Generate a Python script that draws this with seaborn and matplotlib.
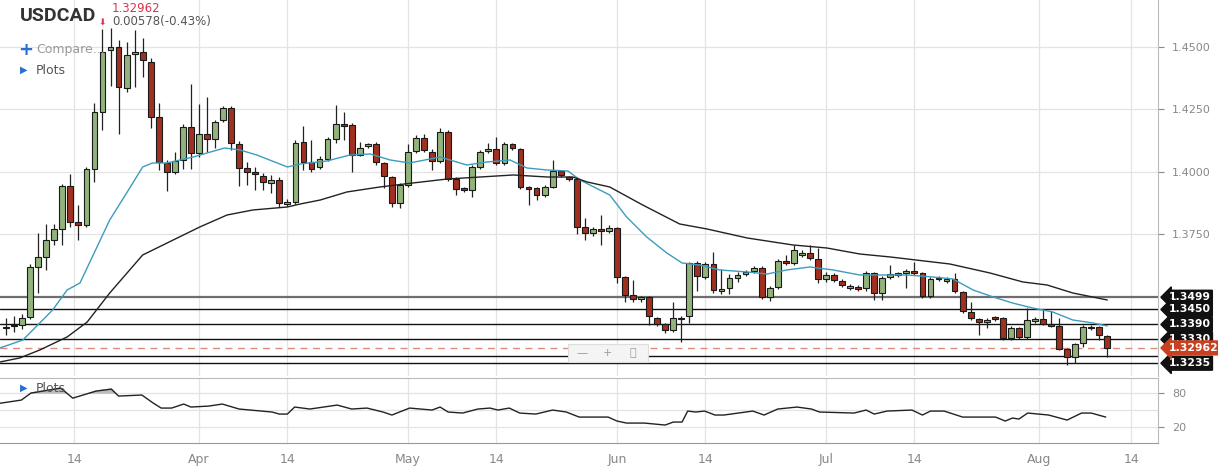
import numpy as np
import pandas as pd
import matplotlib
matplotlib.use("Agg")
import matplotlib.pyplot as plt
import matplotlib.transforms as mtransforms
import seaborn as sns

# daily USDCAD candles (Sun-Fri sessions), prices in 1/10000
opens = [13376, 13382, 13388, 13420, 13620, 13660, 13728, 13772, 13944, 13800,
         13788, 14012, 14240, 14488, 14500, 14336, 14472, 14480, 14440, 14220,
         14036, 14000, 14048, 14180, 14076, 14152, 14132, 14208, 14256, 14112,
         14016, 14000, 13984, 13956, 13968, 13872, 13880, 14120, 14040, 14020,
         14052, 14132, 14192, 14188, 14068, 14104, 14112, 14036, 13980, 13876,
         13948, 14084, 14136, 14080, 14044, 14160, 13972, 13936, 13928, 14020,
         14084, 14092, 14036, 14112, 14092, 13940, 13936, 13908, 13940, 14004,
         13980, 13972, 13780, 13756, 13772, 13764, 13776, 13580, 13508, 13492,
         13500, 13416, 13392, 13368, 13412, 13424, 13636, 13580, 13632, 13524,
         13536, 13576, 13592, 13604, 13616, 13500, 13540, 13644, 13636, 13668,
         13676, 13652, 13572, 13588, 13564, 13536, 13540, 13536, 13596, 13516,
         13580, 13588, 13596, 13604, 13596, 13504, 13572, 13564, 13572, 13520,
         13440, 13412, 13400, 13420, 13416, 13336, 13376, 13340, 13404, 13412,
         13392, 13384, 13292, 13260, 13316, 13376, 13380, 13344]
highs = [13416, 13424, 13432, 13630, 13756, 13792, 13792, 13952, 13992, 13868,
         14020, 14276, 14572, 14576, 14528, 14520, 14568, 14536, 14456, 14276,
         14048, 14080, 14192, 14352, 14272, 14300, 14208, 14264, 14264, 14124,
         14040, 14020, 13996, 13988, 13980, 13892, 14128, 14184, 14128, 14064,
         14140, 14268, 14240, 14196, 14120, 14116, 14120, 14040, 13984, 13956,
         14112, 14148, 14152, 14090, 14176, 14168, 13980, 13940, 14028, 14088,
         14116, 14140, 14120, 14116, 14096, 13944, 13940, 13948, 14048, 14008,
         13984, 13980, 13816, 13780, 13828, 13788, 13780, 13584, 13568, 13504,
         13504, 13420, 13396, 13480, 13424, 13640, 13644, 13640, 13680, 13612,
         13592, 13600, 13608, 13624, 13624, 13544, 13652, 13668, 13708, 13688,
         13708, 13696, 13600, 13596, 13572, 13552, 13548, 13604, 13600, 13584,
         13628, 13600, 13612, 13640, 13600, 13580, 13584, 13580, 13596, 13524,
         13480, 13416, 13416, 13424, 13420, 13384, 13380, 13456, 13420, 13448,
         13444, 13416, 13296, 13316, 13388, 13388, 13384, 13348]
lows = [13348, 13360, 13372, 13410, 13516, 13608, 13708, 13708, 13780, 13728,
        13780, 13960, 14168, 14344, 14152, 14320, 14340, 14380, 14176, 14008,
        13924, 13990, 14012, 14012, 14060, 14080, 14096, 14200, 14088, 13944,
        13948, 13928, 13928, 13916, 13860, 13864, 13872, 14008, 14000, 14012,
        14044, 14116, 14128, 14000, 14064, 14096, 14028, 13936, 13860, 13856,
        13940, 14076, 14080, 14008, 14036, 13964, 13908, 13920, 13900, 14012,
        14076, 14028, 14028, 14088, 13932, 13868, 13888, 13900, 13936, 13980,
        13964, 13752, 13728, 13744, 13708, 13756, 13556, 13480, 13480, 13480,
        13388, 13384, 13356, 13360, 13320, 13396, 13524, 13572, 13516, 13512,
        13512, 13560, 13584, 13596, 13492, 13484, 13532, 13628, 13628, 13660,
        13648, 13556, 13560, 13560, 13540, 13528, 13524, 13524, 13488, 13488,
        13572, 13580, 13536, 13588, 13496, 13496, 13564, 13556, 13516, 13436,
        13408, 13348, 13376, 13404, 13328, 13328, 13332, 13332, 13396, 13388,
        13380, 13288, 13228, 13236, 13300, 13368, 13328, 13260]
closes = [13380, 13386, 13416, 13620, 13660, 13728, 13772, 13944, 13800, 13788,
          14012, 14240, 14480, 14500, 14340, 14468, 14480, 14448, 14220, 14040,
          14000, 14044, 14180, 14076, 14152, 14132, 14200, 14256, 14116, 14016,
          14000, 13992, 13960, 13968, 13876, 13880, 14116, 14040, 14012, 14052,
          14132, 14192, 14184, 14068, 14096, 14112, 14040, 13984, 13876, 13948,
          14080, 14136, 14088, 14044, 14160, 13972, 13932, 13928, 14020, 14080,
          14092, 14036, 14112, 14096, 13940, 13932, 13908, 13940, 14004, 13988,
          13972, 13780, 13756, 13772, 13764, 13776, 13580, 13508, 13492, 13500,
          13424, 13392, 13368, 13416, 13416, 13636, 13584, 13632, 13528, 13532,
          13576, 13588, 13600, 13616, 13500, 13536, 13644, 13636, 13688, 13676,
          13656, 13572, 13588, 13568, 13548, 13544, 13532, 13596, 13516, 13576,
          13592, 13596, 13604, 13596, 13504, 13572, 13576, 13572, 13524, 13444,
          13416, 13400, 13408, 13412, 13336, 13376, 13340, 13408, 13412, 13392,
          13384, 13292, 13260, 13312, 13380, 13380, 13348, 13296]

# moving averages: (session index, price)
ma_fast_idx = [-0.75, 2.1, 5.8, 7.6, 9.2, 12.9, 15, 17, 18.2, 20, 23.3, 25, 27.2, 29.1, 31.2,
               35, 36.6, 39.9, 42.8, 45.3, 47.8, 50.2, 54, 57.3, 59.8, 62.7, 64.8, 67.3, 69.9,
               71.4, 75.1, 77.2, 79.7, 82.2, 84.1, 86.3, 88.8, 92.2, 94.7, 97.1, 100, 102.9,
               106.2, 107.8, 112.1, 115.3, 117.8, 120.3, 122.8, 125.2, 127.7, 130.2, 132.7,
               135.2, 137]
ma_fast = [13296, 13328, 13448, 13528, 13556, 13808, 13916, 14020, 14036, 14036, 14060,
           14076, 14096, 14088, 14068, 14020, 14032, 14044, 14068, 14072, 14048, 14036,
           14060, 14028, 14040, 14048, 14016, 14008, 14004, 13968, 13908, 13820, 13740,
           13676, 13636, 13628, 13608, 13600, 13592, 13608, 13620, 13608, 13588, 13588,
           13588, 13580, 13572, 13528, 13500, 13476, 13456, 13440, 13408, 13396, 13384]
ma_slow_idx = [-0.75, 1.7, 4.2, 7.6, 10.1, 12.9, 17, 20.8, 24.1, 27.5, 30.7, 35, 36.6, 39.1,
               42.4, 46.5, 50.6, 54.9, 59, 63.1, 67.3, 70.5, 72.3, 75.1, 79.2, 83.8, 87.2,
               92.2, 97.9, 102.1, 106.2, 110, 117.4, 122.4, 126.5, 129.5, 132.7, 137]
ma_slow = [13240, 13256, 13288, 13340, 13400, 13516, 13668, 13728, 13780, 13828, 13848,
           13860, 13872, 13888, 13920, 13940, 13956, 13972, 13980, 13988, 13980, 13980,
           13960, 13940, 13868, 13792, 13772, 13736, 13708, 13696, 13672, 13660, 13632,
           13596, 13560, 13548, 13516, 13488]

# lower oscillator panel
osc_idx = [-0.75, 1.9, 3.1, 6.8, 8.3, 11.2, 13.1, 14, 16.9, 18.3, 19.3, 20.6, 22.1, 23,
           25.2, 26.9, 29, 33.1, 34, 35, 35.9, 37.8, 41.2, 43, 44.9, 46.9, 48, 50.2, 53,
           54, 55, 56.8, 58.7, 60.2, 61.2, 62.6, 63.9, 65.9, 68, 69.7, 71.3, 74.9, 76,
           77.2, 79.4, 82, 83, 84.1, 84.8, 85.8, 86.9, 88.2, 89.3, 92.9, 94.3, 96, 98.4,
           100.2, 101.2, 105.5, 107, 108, 109.6, 112.7, 114, 115, 116.7, 119, 123.1,
           124.3, 125.2, 126, 127.1, 129.7, 132, 133.8, 135, 136.8]
osc = [62, 67.6, 80, 88.8, 71, 83.5, 87, 74.7, 76.5, 62.4, 53.5, 53.5, 60.6, 55.3, 57,
       60.6, 51.8, 46.5, 42.9, 42.9, 55.3, 51.8, 58.8, 51.8, 53.5, 46.5, 41.2, 53.5, 50,
       55.3, 46.5, 44.7, 51.8, 53.5, 50, 53.5, 44.7, 42.9, 50, 46.5, 37.6, 37.6, 30.6,
       27, 27, 23.5, 28.8, 28.8, 48.2, 46.5, 48.2, 41.2, 41.2, 48.2, 41.2, 51.8, 55.3,
       51.8, 46.5, 44.7, 50, 42.9, 48.2, 50, 41.2, 48.2, 48.2, 37.6, 37.6, 30.6, 35.9,
       34.1, 44.7, 41.2, 32.3, 44.7, 44.7, 37.6]

levels = [1.3499, 1.3450, 1.3390, 1.3330, 1.3265, 1.3235]
level_labels = ["1.3499", "1.3450", "1.3390", "1.3330", "", "1.3235"]
last_price = 1.32962
price_ticks = [1.375, 1.400, 1.425, 1.450]
date_ticks = ["2020-03-14", "2020-04-01", "2020-04-14", "2020-05-01", "2020-05-14",
              "2020-06-01", "2020-06-14", "2020-07-01", "2020-07-14", "2020-08-01", "2020-08-14"]
date_labels = ["14", "Apr", "14", "May", "14", "Jun", "14", "Jul", "14", "Aug", "14"]

df = pd.DataFrame({"o": opens, "h": highs, "l": lows, "c": closes}) / 10000.0
df["i"] = np.arange(len(df))
up = df["c"] >= df["o"]

# map calendar dates to session index (6 sessions a week)
sessions = pd.bdate_range("2020-03-04", "2020-08-31", freq="C", weekmask="Sun Mon Tue Wed Thu Fri")
sess_num = sessions.values.astype("int64")
tick_pos = [np.interp(pd.Timestamp(d).value, sess_num, np.arange(len(sessions))) for d in date_ticks]

sns.set_style("white")
fig = plt.figure(figsize=(12.18, 4.74), dpi=100)
ax = fig.add_axes([0, 0.2068, 0.9507, 0.7932])
ax2 = fig.add_axes([0, 0.0654, 0.9507, 0.137])

grid_c = "#e3e3e3"
for a in (ax, ax2):
    for p in tick_pos:
        a.axvline(p, color=grid_c, lw=0.9, zorder=0)
for p in price_ticks:
    ax.axhline(p, color=grid_c, lw=0.9, zorder=0)
for p in [20, 50, 80]:
    ax2.axhline(p, color=grid_c, lw=0.9, zorder=0)

# candles
ax.vlines(df["i"], df["l"], df["h"], color="#222222", lw=0.9, zorder=3)
body_lo = np.minimum(df["o"], df["c"])
body_h = np.maximum(np.abs(df["c"] - df["o"]), 0.00008)
ax.bar(df["i"], body_h, bottom=body_lo, width=0.72,
       color=np.where(up, "#93b37c", "#a0301f"), edgecolor="#1a1a1a", linewidth=0.8, zorder=4)

sns.lineplot(x=ma_fast_idx, y=np.array(ma_fast) / 10000, ax=ax, color="#3d9cbd", lw=1.0, zorder=5)
sns.lineplot(x=ma_slow_idx, y=np.array(ma_slow) / 10000, ax=ax, color="#222222", lw=1.0, zorder=5)

trans = mtransforms.blended_transform_factory(ax.transAxes, ax.transData)
for lv, lab in zip(levels, level_labels):
    ax.axhline(lv, color="#6e6e6e" if lab == "1.3499" else "#111111",
               lw=1.6 if lab == "1.3499" else 1.0, zorder=2)
    if lab:
        ax.text(1.009, lv, lab, transform=trans, ha="left", va="center", fontsize=7.8,
                color="white", fontweight="bold", clip_on=False, zorder=10,
                bbox=dict(boxstyle="larrow,pad=0.18", fc="#111111", ec="#111111"))
ax.axhline(last_price, color="#e08a7a", lw=1.0, ls=(0, (5, 4)), zorder=2)
ax.text(1.009, last_price, "1.32962", transform=trans, ha="left", va="center", fontsize=7.8,
        color="white", fontweight="bold", clip_on=False, zorder=11,
        bbox=dict(boxstyle="larrow,pad=0.18", fc="#c8401f", ec="#c8401f"))

ax.set_xlim(-0.75, 143.3)
ax.set_ylim(1.3184, 1.4688)
ax.set_xticks([])
ax.yaxis.tick_right()
ax.set_yticks(price_ticks)
ax.set_yticklabels([f"{p:.4f}" for p in price_ticks])
ax.tick_params(axis="y", colors="#888888", labelsize=8, length=4, pad=6)
for s in ["top", "left", "bottom"]:
    ax.spines[s].set_visible(False)
ax.spines["right"].set_color("#bbbbbb")

# oscillator
sns.lineplot(x=osc_idx, y=osc, ax=ax2, color="#222222", lw=1.0)
o_arr = np.array(osc)
ax2.fill_between(osc_idx, 80, o_arr, where=o_arr > 80, color="#bdbdbd", interpolate=True)
ax2.set_xlim(-0.75, 143.3)
ax2.set_ylim(-8.2, 106.5)
ax2.yaxis.tick_right()
ax2.set_yticks([20, 80])
ax2.tick_params(axis="y", colors="#888888", labelsize=8, length=4, pad=6)
ax2.set_xticks(tick_pos)
ax2.set_xticklabels(date_labels)
ax2.tick_params(axis="x", colors="#888888", labelsize=9, length=4)
ax2.spines["top"].set_color("#bbbbbb")
ax2.spines["bottom"].set_color("#999999")
ax2.spines["right"].set_color("#bbbbbb")
ax2.spines["left"].set_visible(False)

# header text and overlays
fig.text(20 / 1218, 1 - 16 / 474, "USDCAD", fontsize=14, fontweight="bold", color="#333333",
         va="center", fontfamily="Roboto")
fig.text(112 / 1218, 1 - 9 / 474, "1.32962", fontsize=8.5, color="#e0314b", va="center")
fig.text(98 / 1218, 1 - 22 / 474, "\u2b07", fontsize=6.5, color="#e0314b", va="center")
fig.text(112 / 1218, 1 - 22 / 474, "0.00578(-0.43%)", fontsize=8.5, color="#555555", va="center")
fig.text(18 / 1218, 1 - 50 / 474, "+", fontsize=13, color="#2a6fd6", va="center", fontweight="bold")
fig.text(36 / 1218, 1 - 50 / 474, "Compare...", fontsize=9, color="#999999", va="center")
fig.text(20 / 1218, 1 - 70 / 474, "\u25b6", fontsize=7, color="#2a6fd6", va="center")
fig.text(36 / 1218, 1 - 70 / 474, "Plots", fontsize=9, color="#555555", va="center")
fig.text(20 / 1218, 1 - 388 / 474, "\u25b6", fontsize=7, color="#2a6fd6", va="center")
fig.text(36 / 1218, 1 - 388 / 474, "Plots", fontsize=9, color="#555555", va="center")
fig.patches.append(plt.Rectangle((568 / 1218, 1 - 362 / 474), 80 / 1218, 18 / 474,
                                 transform=fig.transFigure, fc="#f4f4f4", ec="#dddddd", lw=0.8, zorder=20))
for xp, sym in [(582, "\u2014"), (607, "+"), (633, "\u26f6")]:
    fig.text(xp / 1218, 1 - 353 / 474, sym, fontsize=8, color="#999999", ha="center", va="center", zorder=21,
             fontfamily="DejaVu Sans")

fig.savefig("out.png", dpi=100, facecolor="white")
